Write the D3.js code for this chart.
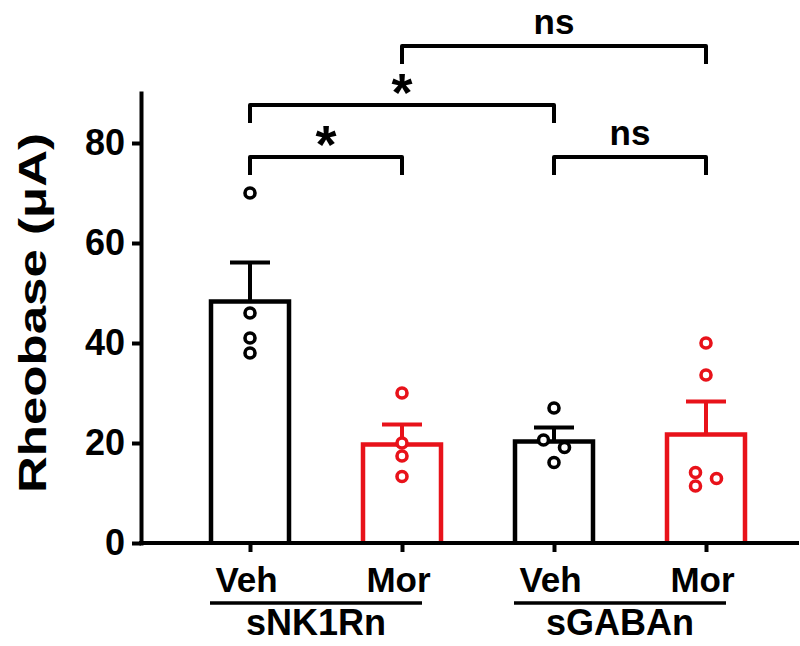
<!DOCTYPE html>
<html>
<head>
<meta charset="utf-8">
<script src="https://cdn.jsdelivr.net/npm/d3@7"></script>
<style>
  body { margin: 0; background: #fff; }
  svg text { font-family: "Liberation Sans", Arial, sans-serif; font-weight: bold; fill: #000; }
</style>
</head>
<body>
<svg id="chart"></svg>
<script>
// Chart values
var groups = ["sNK1Rn", "sGABAn"];
var treatments = ["Veh", "Mor"];
var means = [48.3, 19.7, 20.3, 21.7];
var sems = [7.8, 4.0, 2.8, 6.6];
var points = [
    [70, 46, 41, 38],
    [30, 20, 17.4, 13.3],
    [27, 20.6, 19.1, 16.1],
    [40, 33.6, 14.1, 12.9, 11.4]
];
var comparisons = [
    { from: 0, to: 1, label: "*" },
    { from: 2, to: 3, label: "ns" },
    { from: 0, to: 2, label: "*" },
    { from: 1, to: 3, label: "ns" }
];
var yTicks = [0, 20, 40, 60, 80];

var colors = { Veh: "#000000", Mor: "#e8121a" };

var bars = means.map(function(m, i) {
    return {
        index: i,
        group: groups[Math.floor(i / 2)],
        treatment: treatments[i % 2],
        mean: m,
        sem: sems[i],
        pts: points[i]
    };
});

// SVG dimensions
var dimensions = { width: 800, height: 646 };

var svg = d3.select("#chart")
    .attr("width", dimensions.width)
    .attr("height", dimensions.height);

var x = d3.scalePoint()
    .domain(d3.range(bars.length))
    .range([250, 706]);

var y = d3.scaleLinear()
    .domain([0, 90])
    .range([543, 93]);

var axisX = 141;
var barWidth = 78;

// Bars (open top-hat shape, no bottom edge)
svg.selectAll(".bar")
    .data(bars)
    .enter().append("path")
    .attr("class", "bar")
    .attr("d", function(d) {
        var l = x(d.index) - barWidth / 2, r = x(d.index) + barWidth / 2;
        return "M" + l + "," + y(0) + "V" + y(d.mean) + "H" + r + "V" + y(0);
    })
    .attr("fill", "#fff")
    .attr("stroke", function(d) { return colors[d.treatment]; })
    .attr("stroke-width", 4.5);

// Error bars (mean + SEM)
var err = svg.selectAll(".err")
    .data(bars)
    .enter().append("g")
    .attr("class", "err")
    .attr("stroke", function(d) { return colors[d.treatment]; })
    .attr("stroke-width", 4);

err.append("line")
    .attr("x1", function(d) { return x(d.index); })
    .attr("x2", function(d) { return x(d.index); })
    .attr("y1", function(d) { return y(d.mean); })
    .attr("y2", function(d) { return y(d.mean + d.sem); });

err.append("line")
    .attr("x1", function(d) { return x(d.index) - 20; })
    .attr("x2", function(d) { return x(d.index) + 20; })
    .attr("y1", function(d) { return y(d.mean + d.sem); })
    .attr("y2", function(d) { return y(d.mean + d.sem); });

// Spread out points that sit too close together (alternate left / right)
function dodge(values) {
    var sorted = values.slice().sort(function(a, b) { return b - a; });
    var out = [];
    var cluster = [];
    function flush() {
        cluster.forEach(function(v, k) {
            var side = cluster.length === 1 ? 0 : (k % 2 === 0 ? -1 : 1);
            out.push({ value: v, side: side });
        });
        cluster = [];
    }
    sorted.forEach(function(v) {
        if (cluster.length && cluster[cluster.length - 1] - v >= 2) flush();
        cluster.push(v);
    });
    flush();
    return out;
}

var dots = [];
bars.forEach(function(b) {
    dodge(b.pts).forEach(function(p) {
        dots.push({ index: b.index, treatment: b.treatment, value: p.value, side: p.side });
    });
});

svg.selectAll(".dot")
    .data(dots)
    .enter().append("circle")
    .attr("class", "dot")
    .attr("cx", function(d) { return x(d.index) + d.side * 10.5; })
    .attr("cy", function(d) { return y(d.value); })
    .attr("r", 5)
    .attr("fill", "#fff")
    .attr("stroke", function(d) { return colors[d.treatment]; })
    .attr("stroke-width", 3.6);

// Y axis
var yAxis = svg.append("g")
    .attr("transform", "translate(" + axisX + ",0)")
    .call(d3.axisLeft(y).tickValues(yTicks).tickSize(9).tickSizeOuter(0).tickPadding(7));

yAxis.select(".domain").attr("stroke-width", 4).attr("stroke-linecap", "square");
yAxis.selectAll(".tick line").attr("stroke-width", 4);
yAxis.selectAll(".tick text")
    .style("font-size", "36px")
    .attr("fill", "#000");

// X axis
var xAxis = svg.append("g")
    .attr("transform", "translate(0," + y(0) + ")")
    .call(d3.axisBottom(x).tickSize(9).tickSizeOuter(0).tickPadding(15)
        .tickFormat(function(i) { return treatments[i % 2]; }));

xAxis.select(".domain")
    .attr("d", "M" + axisX + ",0H797")
    .attr("stroke-width", 4)
    .attr("stroke-linecap", "square");
xAxis.selectAll(".tick line").attr("stroke-width", 4);
xAxis.selectAll(".tick text")
    .style("font-size", "35px")
    .attr("dx", "-4")
    .attr("fill", "#000");

// Group underlines and names
groups.forEach(function(g, gi) {
    var x1 = x(gi * 2) - 40, x2 = x(gi * 2 + 1) + 20;
    svg.append("line")
        .attr("x1", x1).attr("x2", x2)
        .attr("y1", 603).attr("y2", 603)
        .attr("stroke", "#000")
        .attr("stroke-width", 3.5);
    svg.append("text")
        .attr("x", (x1 + x2) / 2)
        .attr("y", 635)
        .attr("text-anchor", "middle")
        .style("font-size", "36px")
        .text(g);
});

// Y axis title
svg.append("text")
    .attr("transform", "translate(46,313) rotate(-90)")
    .attr("text-anchor", "middle")
    .attr("textLength", 360)
    .attr("lengthAdjust", "spacingAndGlyphs")
    .style("font-size", "39px")
    .text("Rheobase (\u03bcA)");

// Significance brackets: stack them so overlapping spans go up a level
var levelY = [157, 105, 46];
var placed = [];
comparisons.forEach(function(c) {
    var lvl = 0;
    while (placed.some(function(p) { return p.level === lvl && !(c.to < p.from || c.from > p.to); })) lvl++;
    c.level = lvl;
    placed.push(c);
});

var brackets = svg.selectAll(".bracket")
    .data(comparisons)
    .enter().append("g")
    .attr("class", "bracket");

brackets.append("path")
    .attr("d", function(d) {
        var ly = levelY[d.level];
        return "M" + x(d.from) + "," + (ly + 18) + "V" + ly + "H" + x(d.to) + "V" + (ly + 18);
    })
    .attr("fill", "none")
    .attr("stroke", "#000")
    .attr("stroke-width", 4)
    .attr("stroke-linejoin", "round");

brackets.append("text")
    .attr("x", function(d) { return (x(d.from) + x(d.to)) / 2; })
    .attr("y", function(d) {
        var ly = levelY[d.level];
        return d.label === "*" ? ly + 6 : ly - 12;
    })
    .attr("text-anchor", "middle")
    .style("font-size", function(d) { return d.label === "*" ? "54px" : "35px"; })
    .text(function(d) { return d.label; });
</script>
</body>
</html>
